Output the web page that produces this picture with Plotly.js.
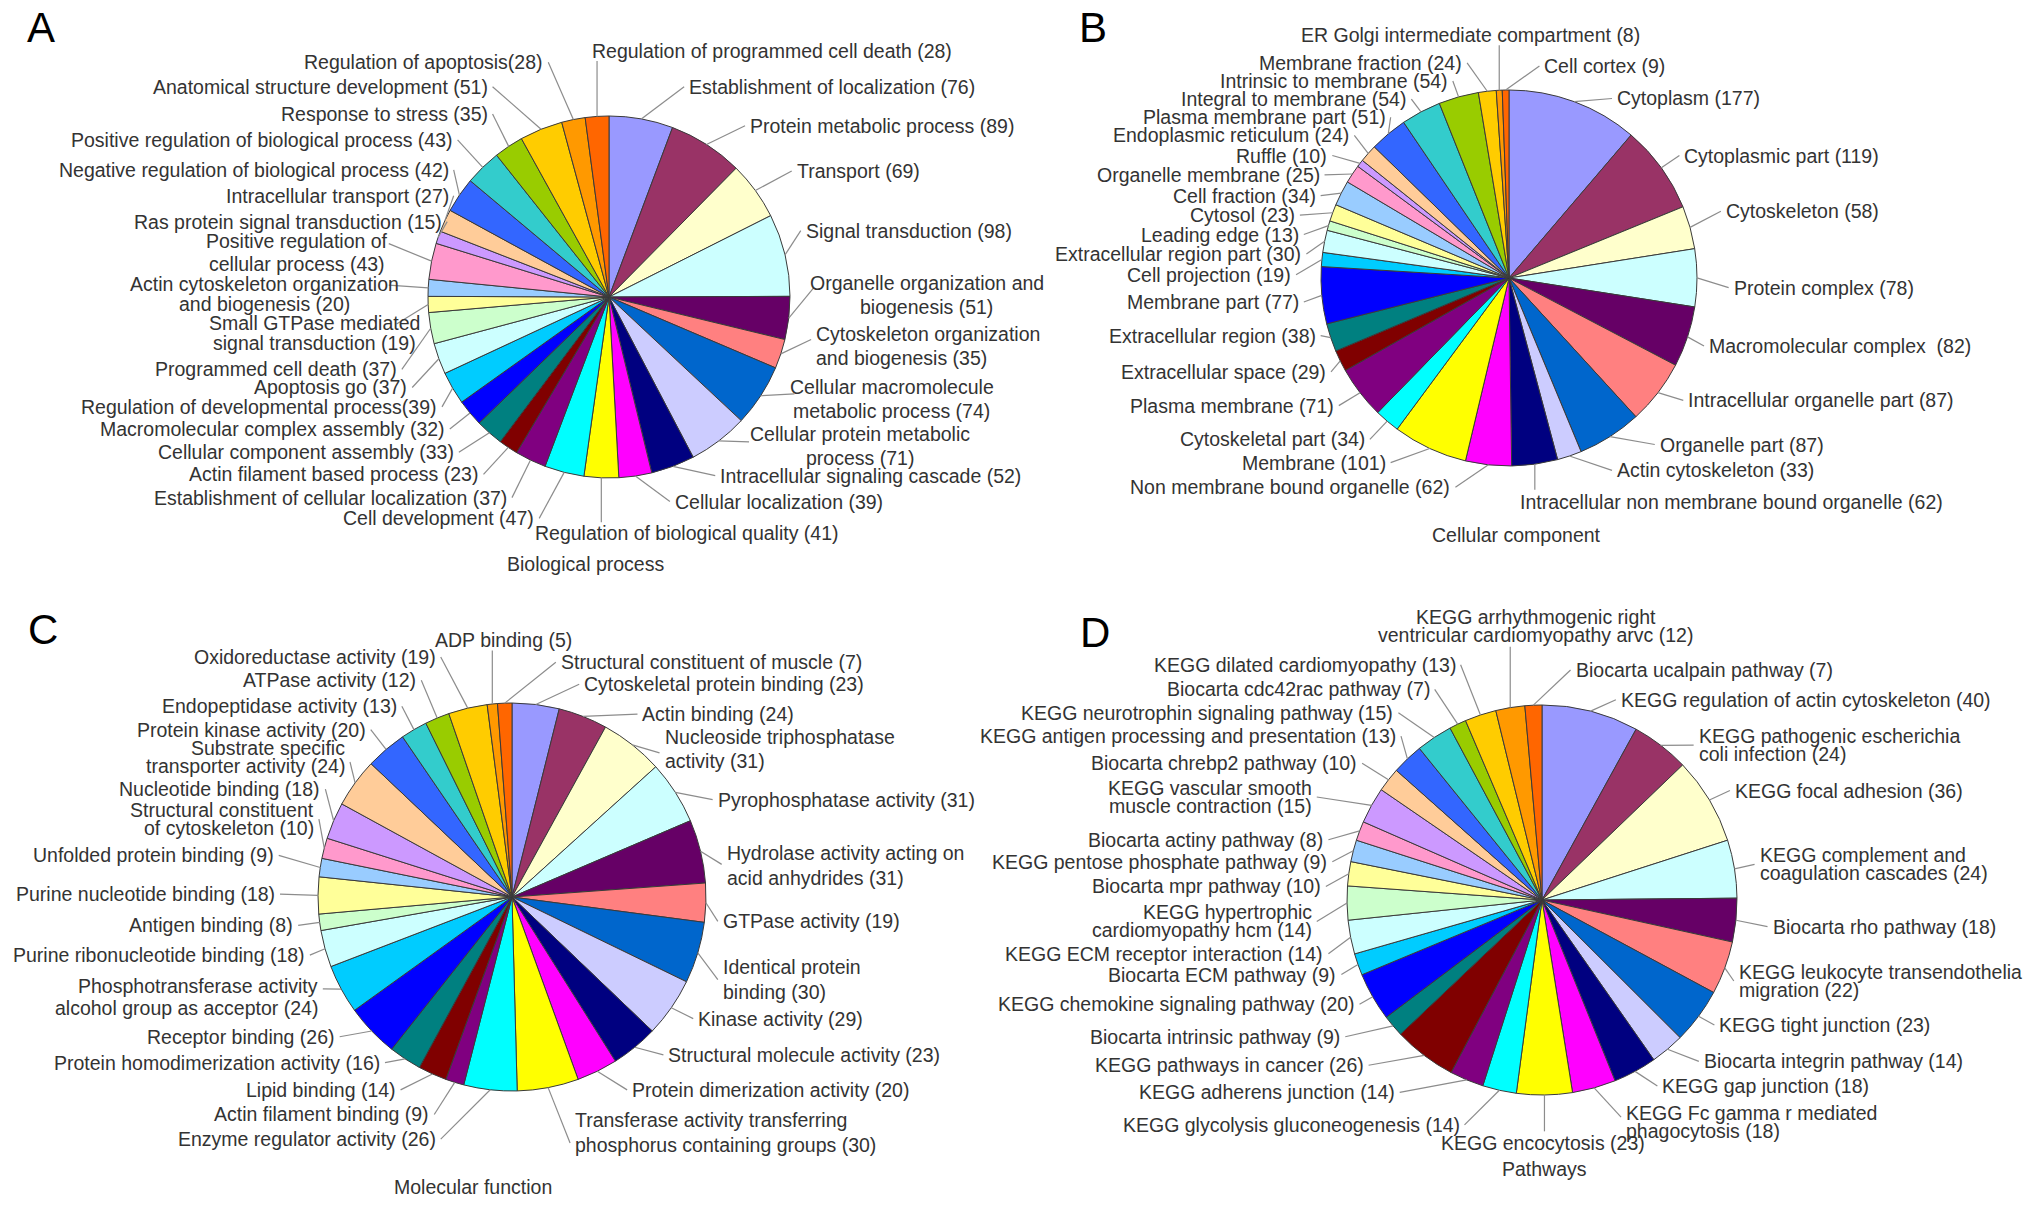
<!DOCTYPE html>
<html>
<head>
<meta charset="utf-8">
<script src="https://cdn.plot.ly/plotly-3.0.1.min.js"></script>
<style>
html,body{margin:0;padding:0;background:#ffffff;}
#chart{width:2032px;height:1207px;}
</style>
</head>
<body>
<div id="chart"></div>
<script>
// ---------------- DATA ----------------
// "#" marks where the count goes when it is not simply appended as " (n)"
const namesA = ['Establishment of localization','Protein metabolic process','Transport','Signal transduction',
 'Organelle organization and\nbiogenesis','Cytoskeleton organization\nand biogenesis','Cellular macromolecule\nmetabolic process',
 'Cellular protein metabolic\nprocess','Intracellular signaling cascade','Cellular localization','Regulation of biological quality',
 'Cell development','Establishment of cellular localization','Actin filament based process','Cellular component assembly',
 'Macromolecular complex assembly','Regulation of developmental process(#)','Apoptosis go','Programmed cell death',
 'Small GTPase mediated\nsignal transduction','Actin cytoskeleton organization\nand biogenesis','Positive regulation of\ncellular process',
 'Ras protein signal transduction','Intracellular transport','Negative regulation of biological process',
 'Positive regulation of biological process','Response to stress','Anatomical structure development',
 'Regulation of apoptosis(#)','Regulation of programmed cell death'];
const valuesA = [76,89,69,98,51,35,74,71,52,39,41,47,37,23,33,32,39,37,37,19,20,43,15,27,42,43,35,51,28,28];

const namesB = ['Cytoplasm','Cytoplasmic part','Cytoskeleton','Protein complex','Macromolecular complex  (#)',
 'Intracellular organelle part','Organelle part','Actin cytoskeleton','Intracellular non membrane bound organelle',
 'Non membrane bound organelle','Membrane','Cytoskeletal part','Plasma membrane','Extracellular space',
 'Extracellular region','Membrane part','Cell projection','Extracellular region part','Leading edge','Cytosol',
 'Cell fraction','Organelle membrane','Ruffle','Endoplasmic reticulum','Plasma membrane part','Integral to membrane',
 'Intrinsic to membrane','Membrane fraction','ER Golgi intermediate compartment','Cell cortex'];
const valuesB = [177,119,58,78,82,87,87,33,62,62,101,34,71,29,38,77,19,30,13,23,34,25,10,24,51,54,54,24,8,9];

const namesC = ['Cytoskeletal protein binding','Actin binding','Nucleoside triphosphatase\nactivity','Pyrophosphatase activity',
 'Hydrolase activity acting on\nacid anhydrides','GTPase activity','Identical protein\nbinding','Kinase activity',
 'Structural molecule activity','Protein dimerization activity','Transferase activity transferring\nphosphorus containing groups',
 'Enzyme regulator activity','Actin filament binding','Lipid binding','Protein homodimerization activity','Receptor binding',
 'Phosphotransferase activity\nalcohol group as acceptor','Purine ribonucleotide binding','Antigen binding',
 'Purine nucleotide binding','Unfolded protein binding','Structural constituent\nof cytoskeleton','Nucleotide binding',
 'Substrate specific\ntransporter activity','Protein kinase activity','Endopeptidase activity','ATPase activity',
 'Oxidoreductase activity','ADP binding','Structural constituent of muscle'];
const valuesC = [23,24,31,31,31,19,30,29,23,20,30,26,9,14,16,26,24,18,8,18,9,10,18,24,20,13,12,19,5,7];

const namesD = ['KEGG regulation of actin cytoskeleton','KEGG pathogenic escherichia\ncoli infection','KEGG focal adhesion',
 'KEGG complement and\ncoagulation cascades','Biocarta rho pathway','KEGG leukocyte transendothelia\nmigration',
 'KEGG tight junction','Biocarta integrin pathway','KEGG gap junction','KEGG Fc gamma r mediated\nphagocytosis',
 'KEGG encocytosis','KEGG glycolysis gluconeogenesis','KEGG adherens junction','KEGG pathways in cancer',
 'Biocarta intrinsic pathway','KEGG chemokine signaling pathway','Biocarta ECM pathway','KEGG ECM receptor interaction',
 'KEGG hypertrophic\ncardiomyopathy hcm','Biocarta mpr pathway','KEGG pentose phosphate pathway','Biocarta actiny pathway',
 'KEGG vascular smooth\nmuscle contraction','Biocarta chrebp2 pathway','KEGG antigen processing and presentation',
 'KEGG neurotrophin signaling pathway','Biocarta cdc42rac pathway','KEGG dilated cardiomyopathy',
 'KEGG arrhythmogenic right\nventricular cardiomyopathy arvc','Biocarta ucalpain pathway'];
const valuesD = [40,24,36,24,18,22,23,14,18,18,23,14,14,26,9,20,9,14,14,10,9,8,15,10,13,15,7,13,12,7];

const panelTitles = ['Biological process','Cellular component','Molecular function','Pathways'];
const panelLetters = ['A','B','C','D'];

const palette = ['#9999FF','#993366','#FFFFCC','#CCFFFF','#660066','#FF8080','#0066CC','#CCCCFF','#000080','#FF00FF',
 '#FFFF00','#00FFFF','#800080','#800000','#008080','#0000FF','#00CCFF','#CCFFFF','#CCFFCC','#FFFF99',
 '#99CCFF','#FF99CC','#CC99FF','#FFCC99','#3366FF','#33CCCC','#99CC00','#FFCC00','#FF9900','#FF6600'];

// ---------------- LAYOUT (label placement, in 1568-wide reference units) ----------------
// [x, y, anchor(l/r/c), extra{cx,cy: connector end, g: line gap, v: vertical connector end y}]
const posA = [
 [531,67,'l'],[578,97,'l'],[614,132,'l'],[621,178,'l'],
 [715,228,'c',{cx:628,cy:222}],[629,267,'l',{cy:262}],[688,308,'c',{cx:613,cy:304}],[664,344,'c',{cx:578,cy:341}],
 [555,367,'l'],[520,387,'l'],[412,411,'l',{v:403}],
 [413,400,'r'],[392,384,'r'],[370,366,'r'],[351,349,'r'],[344,331,'r'],[338,314,'r'],[315,299,'r'],[307,285,'r'],
 [243,257,'c',{cx:306,cy:250,g:15.5}],[204,227,'c',{cx:300,cy:220,g:15.5}],[229,195,'c',{cx:300,cy:188,g:18}],
 [342,171,'r'],[347,151,'r'],[347,131,'r'],[350,108,'r'],[377,88,'r'],[377,67,'r'],[420,48,'r'],
 [456,39,'l',{v:47}]
];
const posB = [
 [1247,76,'l'],[1299,120,'l'],[1331,163,'l'],[1337,222,'l'],[1318,267,'l'],[1302,309,'l'],[1280,343,'l'],[1247,363,'l'],
 [1172,387,'l',{v:378}],
 [1120,376,'r'],[1070,357,'r'],[1054,339,'r'],[1030,313,'r'],[1024,287,'r'],[1016,259,'r'],[1003,233,'r'],[997,212,'r'],
 [1005,196,'r'],[1003,181,'r'],[1000,166,'r'],[1016,151,'r'],[1019,135,'r'],[1025,120,'r'],[1042,104.5,'r'],[1070,90.5,'r'],
 [1086,76.5,'r'],[1118,62.5,'r'],[1129,48.5,'r'],
 [1003,27,'l',{v:35}],[1191,51,'l']
];
const posC = [
 [450,528,'l'],[495,551,'l'],[512,578,'l',{cy:581}],[553,617,'l'],[560,668,'l',{cy:667}],[557,711,'l'],[557,756,'l'],
 [538,786,'l'],[515,814,'l'],[487,841,'l'],[443,874,'l',{cy:882}],
 [337,879,'r'],[332,860,'r'],[306,841,'r'],[294,820,'r'],[259,800,'r'],[246,769,'r',{cy:763,g:17}],[236,737,'r'],
 [227,714,'r'],[213,690,'r'],[212,660,'r'],[243,632,'r',{g:13.5}],[248,609,'r'],[267,584,'r',{g:13.5,cy:588}],
 [283,563,'r'],[307,545,'r'],[322,525,'r'],[337,507,'r'],
 [335,494,'l',{v:502}],[432,511,'l']
];
const posD = [
 [1250,540,'l'],[1310,575,'l'],[1338,610,'l'],[1357,667,'l'],[1367,715,'l'],[1341,757,'l'],[1326,791,'l'],
 [1314,819,'l'],[1282,838,'l'],[1254,866,'l',{cy:862}],[1111,882,'l',{v:873}],
 [1127,868,'r'],[1077,843,'r'],[1053,822,'r'],[1035,800,'r'],[1046,775,'r'],[1032,752,'r'],[1022,736,'r'],
 [1013,711,'r'],[1020,684,'r'],[1025,665,'r'],[1022,648,'r'],[1013,615,'r'],[1048,589,'r'],[1078,568,'r'],
 [1076,550,'r'],[1104,532,'r'],[1124,513,'r'],
 [1185,483,'c',{v:499}],[1215,517,'l']
];

// ---------------- BUILD ----------------
const W = 2032, H = 1207;
const K = W / 1568;
const labelFont = {family:'Liberation Sans, Arial, Helvetica, sans-serif', size:19.5, color:'#333333'};

const panels = [
 {names:namesA, values:valuesA, pos:posA, cx:609,  cy:297, r:181, gap:18.5, title:[452,435],  letter:[19,21]},
 {names:namesB, values:valuesB, pos:posB, cx:1509, cy:278, r:188, gap:18,   title:[1170,413], letter:[831,21]},
 {names:namesC, values:valuesC, pos:posC, cx:512,  cy:897, r:194, gap:19,   title:[365,916],  letter:[20,486]},
 {names:namesD, values:valuesD, pos:posD, cx:1542, cy:900, r:195, gap:14,   title:[1192,902], letter:[832,488]}
];

function labelText(name, v){
  return name.indexOf('#') >= 0 ? name.replace('#', v) : name + ' (' + v + ')';
}

const traces = [], shapes = [], annotations = [];

panels.forEach((p, k) => {
  traces.push({
    type:'pie', values:p.values,
    labels:p.names.map((n,i) => labelText(n, p.values[i]).replace('\n',' ')),
    sort:false, direction:'clockwise', rotation:0,
    textinfo:'none', hoverinfo:'label+value',
    marker:{colors:palette, line:{color:'#3a3a3a', width:1}},
    domain:{x:[(p.cx-p.r)/W, (p.cx+p.r)/W], y:[1-(p.cy+p.r)/H, 1-(p.cy-p.r)/H]},
    showlegend:false
  });

  const total = p.values.reduce((a,b)=>a+b,0);
  let cum = 0;
  p.values.forEach((v, i) => {
    const th = 2*Math.PI*(cum + v/2)/total;
    cum += v;
    const ex = p.cx + p.r*Math.sin(th), ey = p.cy - p.r*Math.cos(th);
    const spec = p.pos[i];
    const X = spec[0]*K, Y = spec[1]*K, a = spec[2], ex2 = spec[3] || {};
    const lines = labelText(p.names[i], v).split('\n');
    const gap = (ex2.g || p.gap)*K;
    lines.forEach((t, j) => {
      annotations.push({
        xref:'paper', yref:'paper', x:X/W, y:1-(Y + (j-(lines.length-1)/2)*gap)/H,
        text:t, showarrow:false, font:labelFont, borderpad:0,
        xanchor: a==='l' ? 'left' : (a==='r' ? 'right' : 'center'), yanchor:'middle'
      });
    });
    let tx, ty;
    if (ex2.v !== undefined) { tx = ex; ty = ex2.v*K; }
    else {
      tx = ex2.cx !== undefined ? ex2.cx*K : (a==='l' ? X-4 : X+4);
      ty = ex2.cy !== undefined ? ex2.cy*K : Y;
    }
    shapes.push({type:'line', xref:'paper', yref:'paper', layer:'above',
      x0:ex/W, y0:1-ey/H, x1:tx/W, y1:1-ty/H, line:{color:'#8c8c8c', width:1.2}});
  });

  annotations.push({xref:'paper', yref:'paper', x:p.title[0]*K/W, y:1-p.title[1]*K/H,
    text:panelTitles[k], showarrow:false, font:labelFont, xanchor:'center', yanchor:'middle'});
  annotations.push({xref:'paper', yref:'paper', x:p.letter[0]*K/W, y:1-p.letter[1]*K/H,
    text:panelLetters[k], showarrow:false, xanchor:'left', yanchor:'middle',
    font:{family:'Liberation Sans, Arial, Helvetica, sans-serif', size:42, color:'#000000'}});
});

const layout = {
  width:W, height:H, margin:{l:0,r:0,t:0,b:0},
  paper_bgcolor:'#ffffff', plot_bgcolor:'#ffffff',
  showlegend:false, shapes:shapes, annotations:annotations
};

Plotly.newPlot('chart', traces, layout, {displayModeBar:false, staticPlot:true});
</script>
</body>
</html>
